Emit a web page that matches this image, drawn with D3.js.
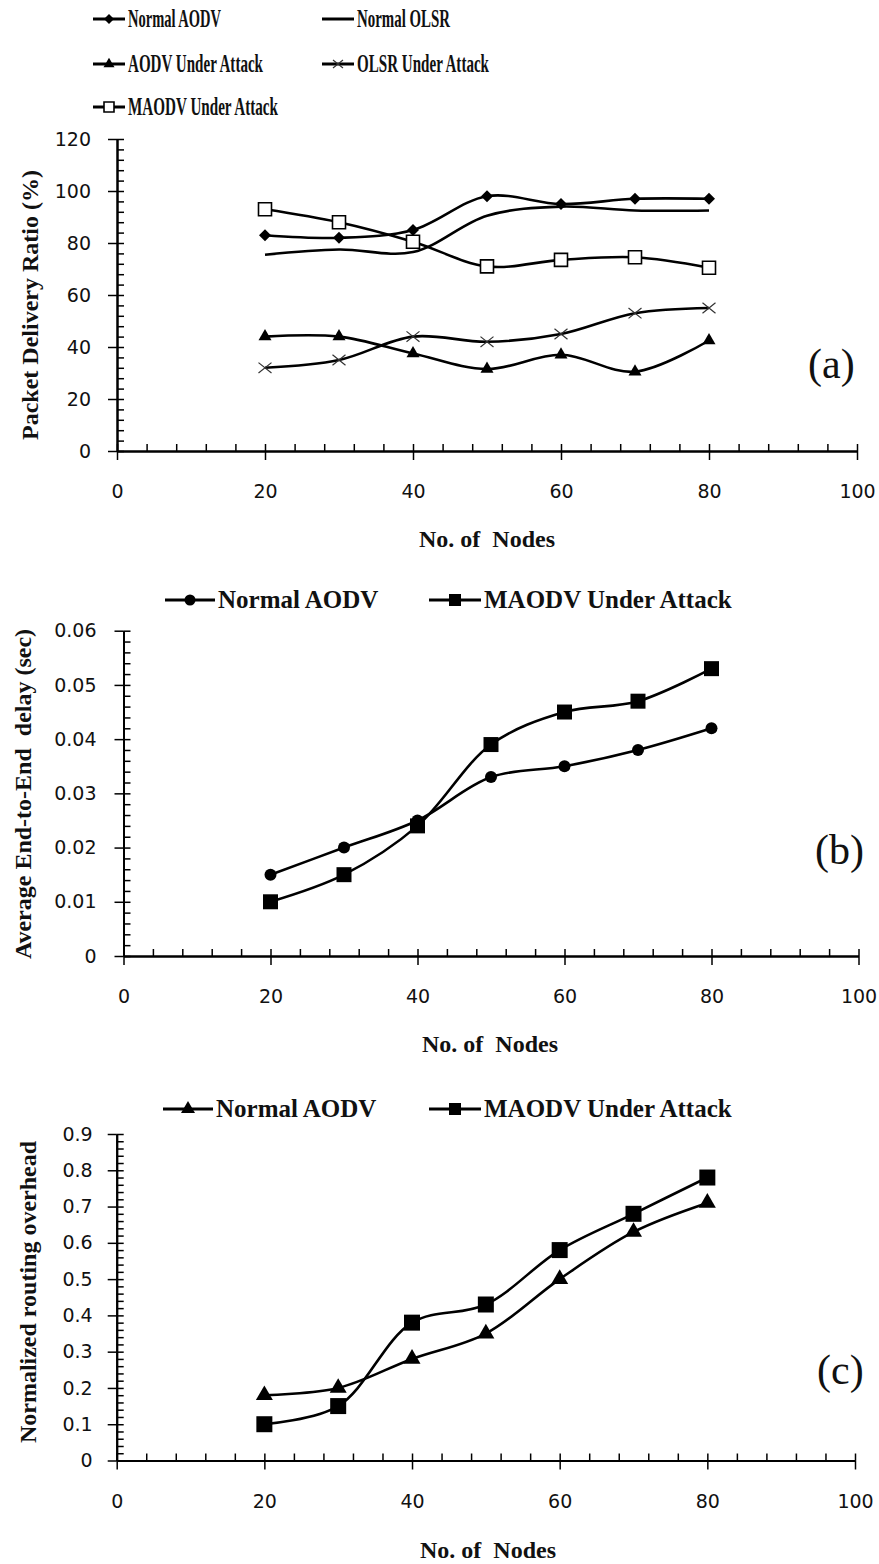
<!DOCTYPE html>
<html>
<head>
<meta charset="utf-8">
<script src="https://cdn.jsdelivr.net/npm/d3@7"></script>
<style>
  body { margin: 0; background: #fff; }
  .tick text { font-family: "DejaVu Sans", Verdana, sans-serif; fill: #111; }
  .title { font-family: "Liberation Serif", "Times New Roman", serif; font-weight: bold; fill: #111; }
  .tag { font-family: "Liberation Serif", "Times New Roman", serif; fill: #111; }
</style>
</head>
<body>
<script>
// x values shared by all three panels
const nodes = [20, 30, 40, 50, 60, 70, 80];
const xTicks = [0, 20, 40, 60, 80, 100];

// (a) packet delivery ratio (%)
const pdrNormalAodv = [83, 82, 85, 98, 95, 97, 97];
const pdrNormalOlsr = [75.5, 77.5, 76.5, 90.5, 94, 92.5, 92.5];
const pdrAodvAttack = [44, 44, 37.5, 31.5, 37, 30.5, 42.5];
const pdrOlsrAttack = [32, 35, 44, 42, 45, 53, 55];
const pdrMaodvAttack = [93, 88, 80.5, 71, 73.5, 74.5, 70.5];
const pdrTicks = [0, 20, 40, 60, 80, 100, 120];

// (b) average end-to-end delay (sec)
const delayNormalAodv = [0.015, 0.020, 0.025, 0.033, 0.035, 0.038, 0.042];
const delayMaodvAttack = [0.010, 0.015, 0.024, 0.039, 0.045, 0.047, 0.053];
const delayTicks = [0, 0.01, 0.02, 0.03, 0.04, 0.05, 0.06];

// (c) normalized routing overhead
const nroNormalAodv = [0.18, 0.20, 0.28, 0.35, 0.50, 0.63, 0.71];
const nroMaodvAttack = [0.10, 0.15, 0.38, 0.43, 0.58, 0.68, 0.78];
const nroTicks = [0, 0.1, 0.2, 0.3, 0.4, 0.5, 0.6, 0.7, 0.8, 0.9];

const svg = d3.select("body").append("svg")
  .attr("width", 879)
  .attr("height", 1564);

// Draw one marker at (x, y)
function marker(g, type, x, y, size) {
  if (type === "none") return;
  if (type === "x") {
    const h = size / 2;
    g.append("path")
      .attr("d", `M${x - h},${y - h * 0.8}L${x + h},${y + h * 0.8}M${x - h},${y + h * 0.8}L${x + h},${y - h * 0.8}`)
      .attr("stroke", "#333").attr("stroke-width", 1.2).attr("fill", "none");
    return;
  }
  let sym = d3.symbolCircle, area = size * size, rot = 0, fill = "#000", stroke = "none";
  if (type === "diamond") { sym = d3.symbolSquare; area = size * size / 2; rot = 45; }
  if (type === "triangle") { sym = d3.symbolTriangle; area = size * size * 0.433; }
  if (type === "square" || type === "openSquare") { sym = d3.symbolSquare; }
  if (type === "circle") { area = Math.PI * size * size / 4; }
  if (type === "openSquare") { fill = "#fff"; stroke = "#000"; }
  g.append("path")
    .attr("d", d3.symbol(sym, area)())
    .attr("transform", `translate(${x},${y}) rotate(${rot})`)
    .attr("fill", fill)
    .attr("stroke", stroke)
    .attr("stroke-width", 1.6);
}

function drawPanel(cfg) {
  const g = svg.append("g");
  const x = d3.scaleLinear().domain([0, 100]).range(cfg.xRange);
  const y = d3.scaleLinear().domain(cfg.yDomain).range(cfg.yRange);
  const axisY = cfg.yRange[0];
  const axisX = cfg.xRange[0];

  // x axis: majors cross the line, minors point up
  const minorX = d3.range(0, 100.01, 4);
  g.append("g")
    .attr("transform", `translate(0,${axisY})`)
    .call(d3.axisTop(x).tickValues(minorX).tickSize(7).tickSizeOuter(0).tickFormat(""));
  g.append("g")
    .attr("transform", `translate(0,${axisY})`)
    .call(d3.axisBottom(x).tickValues(xTicks).tickSize(9).tickSizeOuter(0).tickPadding(25))
    .call(a => a.selectAll("text").attr("font-size", 19));

  // y axis: majors cross the line, minors point right
  const step = cfg.yTicks[1] - cfg.yTicks[0];
  const top = cfg.yDomain[1];
  const minorY = d3.range(0, 5 * top / step + 0.5).map(i => i * step / 5);
  g.append("g")
    .attr("transform", `translate(${axisX},0)`)
    .call(d3.axisRight(y).tickValues(minorY).tickSize(7).tickSizeOuter(0).tickFormat(""));
  g.append("g")
    .attr("transform", `translate(${axisX},0)`)
    .call(d3.axisLeft(y).tickValues(cfg.yTicks).tickSize(9).tickSizeOuter(0).tickPadding(cfg.yPad)
      .tickFormat(d => String(d)))
    .call(a => a.selectAll("text").attr("font-size", 19));

  g.selectAll(".domain").attr("stroke-width", 2);
  g.selectAll(".tick line").attr("stroke-width", 1.5);

  // series
  const line = d3.line()
    .x((d, i) => x(nodes[i]))
    .y(d => y(d))
    .curve(d3.curveCatmullRom.alpha(0.5));

  cfg.series.forEach(s => {
    g.append("path")
      .attr("d", line(s.values))
      .attr("fill", "none")
      .attr("stroke", "#000")
      .attr("stroke-width", 2.6);
  });
  cfg.series.forEach(s => {
    s.values.forEach((v, i) => marker(g, s.marker, x(nodes[i]), y(v), s.size));
  });

  // legend
  cfg.series.forEach(s => {
    const [lx, ly] = s.legend;
    g.append("line")
      .attr("x1", lx).attr("x2", lx + s.legendLine)
      .attr("y1", ly).attr("y2", ly)
      .attr("stroke", "#000").attr("stroke-width", 3);
    marker(g, s.marker, lx + s.legendLine / 2, ly, s.legendSize);
    const t = g.append("text")
      .attr("class", "title")
      .attr("x", lx + s.legendLine + 3)
      .attr("y", ly + 8)
      .attr("font-size", cfg.legendFont)
      .text(s.name);
    if (s.textLength) {
      t.attr("textLength", s.textLength).attr("lengthAdjust", "spacingAndGlyphs");
    }
  });

  // axis titles
  g.append("text")
    .attr("class", "title")
    .attr("x", cfg.xTitle[0]).attr("y", cfg.xTitle[1])
    .attr("text-anchor", "middle")
    .attr("font-size", 24)
    .attr("xml:space", "preserve")
    .text("No. of  Nodes");
  g.append("text")
    .attr("class", "title")
    .attr("transform", `translate(${cfg.yTitle[0]},${cfg.yTitle[1]}) rotate(-90)`)
    .attr("text-anchor", "middle")
    .attr("font-size", 24)
    .attr("xml:space", "preserve")
    .text(cfg.yTitleText);

  // panel tag
  g.append("text")
    .attr("class", "tag")
    .attr("x", cfg.tag[0]).attr("y", cfg.tag[1])
    .attr("font-size", 42)
    .text(cfg.tagText);
}

// (a)
drawPanel({
  xRange: [117, 857],
  yDomain: [0, 120],
  yRange: [451, 139],
  yTicks: pdrTicks,
  yPad: 17,
  legendFont: 25,
  xTitle: [487, 547],
  yTitle: [38, 305],
  yTitleText: "Packet Delivery Ratio (%)",
  tag: [808, 378],
  tagText: "(a)",
  series: [
    { name: "Normal OLSR", values: pdrNormalOlsr, marker: "none", size: 0, legend: [322, 19], legendLine: 32, legendSize: 0, textLength: 93 },
    { name: "OLSR Under Attack", values: pdrOlsrAttack, marker: "x", size: 13, legend: [322, 64], legendLine: 32, legendSize: 10, textLength: 132 },
    { name: "AODV Under Attack", values: pdrAodvAttack, marker: "triangle", size: 13, legend: [93, 64], legendLine: 32, legendSize: 11, textLength: 135 },
    { name: "Normal AODV", values: pdrNormalAodv, marker: "diamond", size: 12, legend: [93, 19], legendLine: 32, legendSize: 10, textLength: 93 },
    { name: "MAODV Under Attack", values: pdrMaodvAttack, marker: "openSquare", size: 13, legend: [93, 107], legendLine: 32, legendSize: 10, textLength: 150 }
  ]
});

// (b)
drawPanel({
  xRange: [123.5, 858.5],
  yDomain: [0, 0.06],
  yRange: [956, 630.7],
  yTicks: delayTicks,
  yPad: 18,
  legendFont: 25,
  xTitle: [490, 1052],
  yTitle: [31, 794],
  yTitleText: "Average End-to-End  delay (sec)",
  tag: [815, 864],
  tagText: "(b)",
  series: [
    { name: "Normal AODV", values: delayNormalAodv, marker: "circle", size: 12, legend: [165, 600], legendLine: 50, legendSize: 11 },
    { name: "MAODV Under Attack", values: delayMaodvAttack, marker: "square", size: 15, legend: [429, 600], legendLine: 52, legendSize: 12 }
  ]
});

// (c)
drawPanel({
  xRange: [116.7, 855],
  yDomain: [0, 0.9],
  yRange: [1460.5, 1134],
  yTicks: nroTicks,
  yPad: 15,
  legendFont: 25,
  xTitle: [488, 1558],
  yTitle: [36, 1292],
  yTitleText: "Normalized routing overhead",
  tag: [817, 1384],
  tagText: "(c)",
  series: [
    { name: "Normal AODV", values: nroNormalAodv, marker: "triangle", size: 17, legend: [163, 1109], legendLine: 50, legendSize: 14 },
    { name: "MAODV Under Attack", values: nroMaodvAttack, marker: "square", size: 16, legend: [429, 1109], legendLine: 52, legendSize: 12 }
  ]
});
</script>
</body>
</html>
